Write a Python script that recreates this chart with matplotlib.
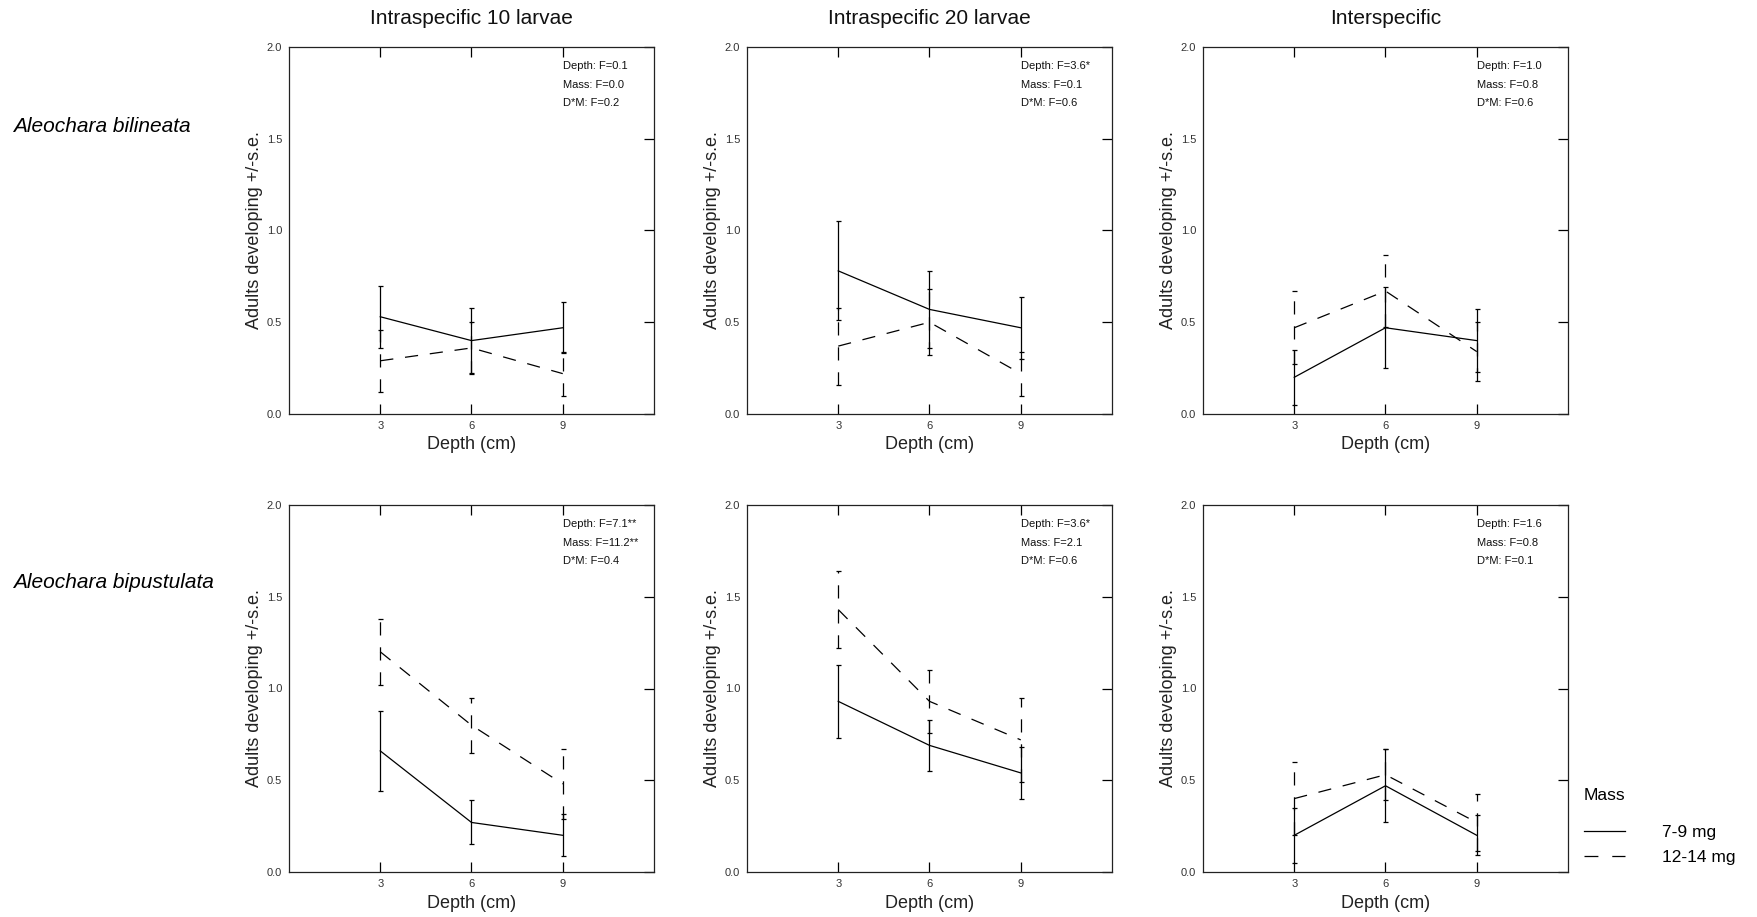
import matplotlib
matplotlib.use('Agg')
import matplotlib.pyplot as plt
from matplotlib.lines import Line2D

plt.rcParams['font.family'] = ['Liberation Sans', 'DejaVu Sans']
plt.rcParams['lines.scale_dashes'] = False

depth = [3, 6, 9]
columns = ['Intraspecific 10 larvae', 'Intraspecific 20 larvae', 'Interspecific']
species = ['Aleochara bilineata', 'Aleochara bipustulata']
mass_labels = ['7-9 mg', '12-14 mg']

# 7-9 mg, rows = species, cols = treatment
small_mean = [
    [[0.53, 0.40, 0.47], [0.78, 0.57, 0.47], [0.20, 0.47, 0.40]],
    [[0.66, 0.27, 0.20], [0.93, 0.69, 0.54], [0.20, 0.47, 0.20]],
]
small_se = [
    [[0.17, 0.175, 0.14], [0.27, 0.21, 0.17], [0.15, 0.22, 0.17]],
    [[0.22, 0.12, 0.115], [0.20, 0.14, 0.14], [0.15, 0.20, 0.11]],
]
# 12-14 mg
large_mean = [
    [[0.29, 0.36, 0.22], [0.37, 0.50, 0.22], [0.47, 0.67, 0.34]],
    [[1.20, 0.80, 0.48], [1.43, 0.93, 0.72], [0.40, 0.53, 0.27]],
]
large_se = [
    [[0.17, 0.14, 0.12], [0.21, 0.18, 0.12], [0.20, 0.195, 0.16]],
    [[0.18, 0.15, 0.19], [0.21, 0.17, 0.23], [0.20, 0.14, 0.155]],
]

stats = [
    [["Depth: F=0.1", "Mass: F=0.0", "D*M: F=0.2"],
     ["Depth: F=3.6*", "Mass: F=0.1", "D*M: F=0.6"],
     ["Depth: F=1.0", "Mass: F=0.8", "D*M: F=0.6"]],
    [["Depth: F=7.1**", "Mass: F=11.2**", "D*M: F=0.4"],
     ["Depth: F=3.6*", "Mass: F=2.1", "D*M: F=0.6"],
     ["Depth: F=1.6", "Mass: F=0.8", "D*M: F=0.1"]],
]

W, H = 1758, 917
col_left = [289, 747, 1203]
row_top = [47, 505]
ax_w, ax_h = 365, 367
dash = (9.5, 8.5)

fig = plt.figure(figsize=(W / 100, H / 100), dpi=100)

for r in range(2):
    for c in range(3):
        ax = fig.add_axes([col_left[c] / W, 1 - (row_top[r] + ax_h) / H, ax_w / W, ax_h / H])

        eb = ax.errorbar(depth, small_mean[r][c], yerr=small_se[r][c], color='black',
                         lw=0.9, elinewidth=0.9, capsize=1.8, capthick=0.9)
        eb2 = ax.errorbar(depth, large_mean[r][c], yerr=large_se[r][c], color='black',
                          lw=0.9, elinewidth=0.9, capsize=1.8, capthick=0.9)
        eb2[0].set_dashes(dash)
        eb2[2][0].set_linestyle((0, dash))

        ax.set_xlim(0, 12)
        ax.set_ylim(0, 2.0)
        ax.set_xticks(depth)
        ax.set_yticks([0, 0.5, 1.0, 1.5, 2.0])
        ax.set_yticklabels(['0.0', '0.5', '1.0', '1.5', '2.0'])
        ax.tick_params(axis='x', direction='in', length=7, width=0.9, top=True,
                       labelsize=8, labelcolor='#333333', pad=5)
        ax.tick_params(axis='y', direction='in', length=7, width=0.9, right=True, left=False,
                       labelsize=8, labelcolor='#333333', pad=5)
        for s in ax.spines.values():
            s.set_linewidth(0.9)
            s.set_color('#222222')

        ax.set_xlabel('Depth (cm)', fontsize=13, color='#222222', labelpad=4)
        ax.set_ylabel('Adults developing +/-s.e.', fontsize=13, color='#222222', labelpad=3)

        for i, line in enumerate(stats[r][c]):
            ax.text(9, 1.895 - 0.1 * i, line, fontsize=8, va='center', ha='left', color='#111111')

        if r == 0:
            ax.text(0.5, 1.0 + 29 / ax_h, columns[c], transform=ax.transAxes, fontsize=15,
                    ha='center', va='center', color='#111111')

fig.text(13 / W, 1 - 126 / H, species[0], fontsize=15, style='italic', va='center', ha='left')
fig.text(13 / W, 1 - 583 / H, species[1], fontsize=15, style='italic', va='center', ha='left')

handles = [Line2D([], [], color='black', lw=0.9),
           Line2D([], [], color='black', lw=0.9, dashes=(10, 10))]
leg = fig.legend(handles, mass_labels, title='Mass', loc='upper left',
                 bbox_to_anchor=(1568 / W, 1 - 772 / H), frameon=False, fontsize=12.5,
                 title_fontsize=12.5, handlelength=2.4, handletextpad=2.1, labelspacing=0.55,
                 alignment='left')
leg._legend_box.sep = 16

fig.savefig('out.png', dpi=100)
